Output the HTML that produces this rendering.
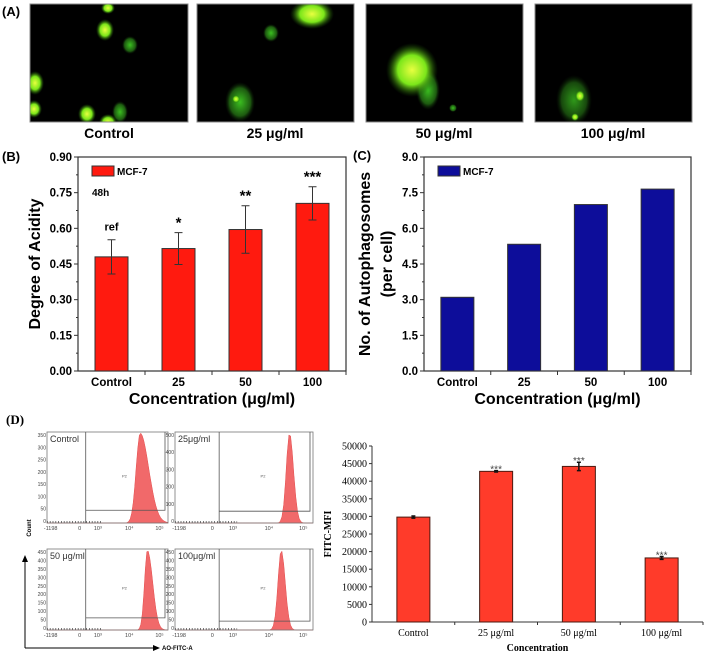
<!DOCTYPE html>
<html><head><meta charset="utf-8">
<style>
html,body{margin:0;padding:0;background:#fff;}
body{width:708px;height:661px;overflow:hidden;position:relative;font-family:"Liberation Sans",sans-serif;}
#fig{position:absolute;left:0;top:0;}
</style></head>
<body>
<svg id="fig" width="708" height="661" viewBox="0 0 708 661" xmlns="http://www.w3.org/2000/svg">
<defs>
  <radialGradient id="cg" cx="50%" cy="50%" r="50%">
    <stop offset="0%" stop-color="#e8ff40"/><stop offset="55%" stop-color="#7be61a"/><stop offset="100%" stop-color="#1a5a08" stop-opacity="0"/>
  </radialGradient>
  <radialGradient id="cd" cx="50%" cy="50%" r="50%">
    <stop offset="0%" stop-color="#3bbf20"/><stop offset="70%" stop-color="#1d5a10"/><stop offset="100%" stop-color="#0a2005" stop-opacity="0"/>
  </radialGradient>
  <clipPath id="c1"><rect x="30" y="4" width="158" height="118"/></clipPath>
  <clipPath id="c2"><rect x="197" y="4" width="157" height="118"/></clipPath>
  <clipPath id="c3"><rect x="366" y="4" width="157" height="118"/></clipPath>
  <clipPath id="c4"><rect x="535" y="4" width="157" height="118"/></clipPath>
</defs>

<text x="2" y="16" font-size="13" font-weight="bold">(A)</text>
<g clip-path="url(#c1)">
  <rect x="30" y="4" width="158" height="118" fill="#000" stroke="#888"/>
  <ellipse cx="105" cy="30" rx="9" ry="11" fill="url(#cg)"/>
  <ellipse cx="108" cy="8" rx="7" ry="6" fill="url(#cg)"/>
  <ellipse cx="130" cy="45" rx="8" ry="9" fill="url(#cd)"/>
  <ellipse cx="35" cy="83" rx="9" ry="12" fill="url(#cg)"/>
  <ellipse cx="34" cy="109" rx="8" ry="9" fill="url(#cg)"/>
  <ellipse cx="87" cy="114" rx="9" ry="10" fill="url(#cg)"/>
  <ellipse cx="108" cy="122" rx="9" ry="8" fill="url(#cg)"/>
  <ellipse cx="120" cy="112" rx="8" ry="11" fill="url(#cd)"/>
</g>
<rect x="30" y="4" width="158" height="118" fill="none" stroke="#888"/>
<g clip-path="url(#c2)">
  <rect x="197" y="4" width="157" height="118" fill="#000"/>
  <ellipse cx="312" cy="14" rx="22" ry="15" fill="url(#cg)"/>
  <ellipse cx="271" cy="33" rx="8" ry="9" fill="url(#cd)"/>
  <ellipse cx="240" cy="102" rx="15" ry="20" fill="url(#cd)"/>
  <ellipse cx="236" cy="99" rx="4" ry="4" fill="url(#cg)"/>
</g>
<rect x="197" y="4" width="157" height="118" fill="none" stroke="#888"/>
<g clip-path="url(#c3)">
  <rect x="366" y="4" width="157" height="118" fill="#000"/>
  <ellipse cx="428" cy="90" rx="12" ry="20" fill="url(#cd)"/>
  <ellipse cx="412" cy="70" rx="26" ry="27" fill="url(#cg)"/>
  <ellipse cx="453" cy="108" rx="4" ry="4" fill="url(#cd)"/>
</g>
<rect x="366" y="4" width="157" height="118" fill="none" stroke="#888"/>
<g clip-path="url(#c4)">
  <rect x="535" y="4" width="157" height="118" fill="#000"/>
  <ellipse cx="574" cy="100" rx="18" ry="25" fill="url(#cd)" opacity="0.8"/>
  <ellipse cx="580" cy="96" rx="5" ry="6" fill="url(#cg)"/>
  <ellipse cx="575" cy="117" rx="4" ry="4" fill="url(#cg)"/>
</g>
<rect x="535" y="4" width="157" height="118" fill="none" stroke="#888"/>
<g font-size="14" font-weight="bold" text-anchor="middle">
  <text x="109" y="138">Control</text>
  <text x="275" y="138">25 μg/ml</text>
  <text x="444" y="138">50 μg/ml</text>
  <text x="613" y="138">100 μg/ml</text>
</g>

<text x="2" y="161" font-size="13" font-weight="bold">(B)</text>
<text x="353" y="160" font-size="13" font-weight="bold">(C)</text>
<text x="6" y="424" font-size="13" font-weight="bold" font-family="Liberation Serif, serif">(D)</text>

<g id="chartB"></g>
<g id="chartC"></g>
<g id="flow"></g>
<g id="chartD"></g>
</svg>

<script>
const catsB = ["Control","25","50","100"];
const valsB = [0.48,0.515,0.595,0.705];
const errB = [0.072,0.067,0.10,0.07];
const sigB = ["ref","*","**","***"];
const ticksB = ["0.00","0.15","0.30","0.45","0.60","0.75","0.90"];

const catsC = ["Control","25","50","100"];
const valsC = [3.1,5.33,7.0,7.65];
const ticksC = ["0.0","1.5","3.0","4.5","6.0","7.5","9.0"];

const catsD = ["Control","25 μg/ml","50 μg/ml","100 μg/ml"];
const valsD = [29800,42800,44200,18200];
const errD = [300,200,1200,400];
const sigD = ["","***","***","***"];
const ticksD = ["0","5000","10000","15000","20000","25000","30000","35000","40000","45000","50000"];

const NS="http://www.w3.org/2000/svg";
function mk(parent,tag,attrs,text){
  const e=document.createElementNS(NS,tag);
  for(const k in attrs) e.setAttribute(k,attrs[k]);
  if(text!==undefined) e.textContent=text;
  parent.appendChild(e);
  return e;
}

function originChart(g, cats, vals, errs, sigs, ticks, opt){
  const L=opt.left,R=opt.right,T=opt.top,B=opt.bottom,max=opt.max;
  const y=v=>B-(v/max)*(B-T);
  const band=(R-L)/cats.length;
  const x=i=>L+band*(i+0.5);
  const frame=mk(g,'rect',{x:L,y:T,width:R-L,height:B-T,fill:'none',stroke:'#333','stroke-width':1.2});
  
  
  ticks.forEach((t,i)=>{
    const v=parseFloat(t);
    const tk=mk(g,'line',{x1:L-4,x2:L,y1:y(v),y2:y(v),stroke:'#333'});
    
    
    if(i<ticks.length-1){
      const mt=mk(g,'line',{x1:L-2,x2:L,y1:y(v+max/(ticks.length-1)/2),y2:y(v+max/(ticks.length-1)/2),stroke:'#333'});
      
      
    }
    const tl=mk(g,'text',{x:L-6,y:y(v)+4,'text-anchor':'end','font-size':11.5,'font-weight':'bold'},t);
    
    
  });
  cats.forEach((c,i)=>{
    const bw=33;
    const bar=mk(g,'rect',{x:x(i)-bw/2,y:y(vals[i]),width:bw,height:B-y(vals[i]),fill:opt.fill,stroke:'#333','stroke-width':1});
    
    
    const tk=mk(g,'line',{x1:L+band*(i+1),x2:L+band*(i+1),y1:B,y2:B+4,stroke:'#333'});
    
    
    const xl=mk(g,'text',{x:x(i),y:B+15,'text-anchor':'middle','font-size':11.5,'font-weight':'bold'},c);
    
    
    if(errs){
      const e=errs[i];
      const eb=mk(g,'path',{d:`M${x(i)},${y(vals[i]+e)}V${y(vals[i]-e)}M${x(i)-4},${y(vals[i]+e)}H${x(i)+4}M${x(i)-4},${y(vals[i]-e)}H${x(i)+4}`,stroke:'#333',fill:'none'});
      
      
      const s=mk(g,'text',{x:x(i),y:y(vals[i]+e)-(sigs[i]==='ref'?9:5),'text-anchor':'middle','font-size':sigs[i]==='ref'?11:15,'font-weight':'bold'},sigs[i]);
      
      
    }
  });
  const lg=mk(g,'rect',{x:L+14,y:T+9,width:22,height:10,fill:opt.fill,stroke:'#333'});
  
  
  const lt=mk(g,'text',{x:L+39,y:T+18,'font-size':10,'font-weight':'bold'},'MCF-7');
  
  
  const xt=mk(g,'text',{x:(L+R)/2,y:B+33,'text-anchor':'middle','font-size':16,'font-weight':'bold'},'Concentration (μg/ml)');
  
  
  const yt=mk(g,'text',{x:0,y:0,'text-anchor':'middle','font-size':16,'font-weight':'bold',transform:`translate(${opt.ytx},${(T+B)/2}) rotate(-90)`});
  opt.ytitle.forEach((line,k)=>{
    mk(yt,'tspan',{x:0,dy:k===0?0:22},line);
  });
  
  
}

const gB=document.getElementById('chartB');
originChart(gB,catsB,valsB,errB,sigB,ticksB,{left:78,right:346,top:157,bottom:371,max:0.9,fill:'#ff1a0f',ytx:40,ytitle:['Degree of Acidity']});
const h48=mk(gB,'text',{x:92,y:196,'font-size':10,'font-weight':'bold'},'48h');



const gC=document.getElementById('chartC');
originChart(gC,catsC,valsC,null,null,ticksC,{left:424,right:691,top:157,bottom:371,max:9,fill:'#0d0d9a',ytx:370,ytitle:['No. of Autophagosomes','(per cell)']});

(function(){
  const g=document.getElementById('chartD');
  const L=372,R=703,T=446,B=622,max=50000;
  const y=v=>B-(v/max)*(B-T);
  const band=(R-L)/catsD.length;
  const x=i=>L+band*(i+0.5);
  const ax=mk(g,'path',{d:`M${L},${T}V${B}H${R}`,stroke:'#333',fill:'none'});
  
  
  ticksD.forEach(t=>{
    const v=parseFloat(t);
    const tk=mk(g,'line',{x1:L-3,x2:L,y1:y(v),y2:y(v),stroke:'#333'});
    
    
    const tl=mk(g,'text',{x:L-5,y:y(v)+3.5,'text-anchor':'end','font-size':10,'font-family':'Liberation Serif, serif'},t);
    
    
  });
  catsD.forEach((c,i)=>{
    const bw=33;
    const bar=mk(g,'rect',{x:x(i)-bw/2,y:y(valsD[i]),width:bw,height:B-y(valsD[i]),fill:'#ff3b2a',stroke:'#4a1a10','stroke-width':1});
    
    
    const e=errD[i];
    const eb=mk(g,'path',{d:`M${x(i)},${y(valsD[i]+e)}V${y(valsD[i]-e)}M${x(i)-2},${y(valsD[i]+e)}H${x(i)+2}M${x(i)-2},${y(valsD[i]-e)}H${x(i)+2}`,stroke:'#111','stroke-width':1.5,fill:'none'});
    
    
    if(sigD[i]){
      const s=mk(g,'text',{x:x(i),y:y(valsD[i]+e)+2,'text-anchor':'middle','font-size':10,fill:'#444'},sigD[i]);
      
      
    }
    const tk=mk(g,'line',{x1:L+band*(i+1),x2:L+band*(i+1),y1:B,y2:B+3,stroke:'#333'});
    
    
    const xl=mk(g,'text',{x:x(i),y:B+14,'text-anchor':'middle','font-size':10,'font-family':'Liberation Serif, serif'},c);
    
    
  });
  const xt=mk(g,'text',{x:(L+R)/2,y:651,'text-anchor':'middle','font-size':10,'font-weight':'bold','font-family':'Liberation Serif, serif'},'Concentration');
  
  
  const yt=mk(g,'text',{x:0,y:0,'text-anchor':'middle','font-size':10,'font-weight':'bold','font-family':'Liberation Serif, serif',transform:`translate(331,${(T+B)/2}) rotate(-90)`},'FITC-MFI');
  
  
})();

const flowPanels = [
  {name:'control',label:'Control',x:47,y:432,w:121,h:91,ticks:['350','300','250','200','150','100','50','0'],peak:0.77,spread:[0.07,0.15],gate:0.14},
  {name:'25',label:'25μg/ml',x:175,y:432,w:138,h:91,ticks:['500','400','300','200','100','0'],peak:0.83,spread:[0.05,0.06],gate:0.13},
  {name:'50',label:'50 μg/ml',x:47,y:549,w:121,h:81,ticks:['450','400','350','300','250','200','150','100','50','0'],peak:0.83,spread:[0.05,0.09],gate:0.15},
  {name:'100',label:'100μg/ml',x:175,y:549,w:138,h:81,ticks:['450','400','350','300','250','200','150','100','50','0'],peak:0.77,spread:[0.05,0.06],gate:0.11}
];
(function(){
  const g=document.getElementById('flow');
  flowPanels.forEach(p=>{
    const sg=mk(g,'g',{});
    
    
    let d=`M${p.x},${p.y+p.h}`;
    for(let k=0;k<=80;k++){
      const f=k/80, xx=p.x+f*p.w;
      const s=f<p.peak?p.spread[0]:p.spread[1];
      const hgt=Math.exp(-Math.pow((f-p.peak)/s,2)*2.2)*(p.h-1);
      d+=`L${xx.toFixed(1)},${(p.y+p.h-hgt).toFixed(1)}`;
    }
    d+=`L${p.x+p.w},${p.y+p.h}Z`;
    const hist=mk(sg,'path',{d:d,fill:'#f0595a',stroke:'#e03a3a','stroke-width':0.5,opacity:0.9});
    
    
    const fr=mk(sg,'rect',{x:p.x,y:p.y,width:p.w,height:p.h,fill:'none',stroke:'#777','stroke-width':0.8});
    
    
    const gx=p.x+p.w*0.32;
    const gate=mk(sg,'path',{d:`M${gx},${p.y}V${p.y+p.h}M${gx},${p.y+p.h*(1-p.gate)}H${p.x+p.w-3}V${p.y}`,stroke:'#555','stroke-width':0.8,fill:'none'});
    
    
    const p2=mk(sg,'text',{x:gx+p.w*0.3,y:p.y+p.h*0.5,'font-size':4,fill:'#555'},'P2');
    
    
    const lb=mk(sg,'text',{x:p.x+3,y:p.y+10,'font-size':9,fill:'#333'},p.label);
    
    
    p.ticks.forEach((t,i)=>{
      const ty=p.y+3+(p.h-5)*i/(p.ticks.length-1);
      const tl=mk(sg,'text',{x:p.x-1,y:ty+2,'text-anchor':'end','font-size':5,fill:'#444'},t);
      
      
    });
    ['-1198','0','10³','10⁴','10⁵'].forEach((t,i)=>{
      const fx=[0.03,0.27,0.42,0.68,0.93][i];
      const tl=mk(sg,'text',{x:p.x+p.w*fx,y:p.y+p.h+7,'text-anchor':'middle','font-size':5.5,fill:'#444'},t);
      
      
    });
    const tk=mk(sg,'line',{x1:p.x,x2:p.x+p.w*0.45,y1:p.y+p.h-1,y2:p.y+p.h-1,stroke:'#555','stroke-dasharray':'0.8 2','stroke-width':2});
    
    
  });
  const arr=mk(g,'path',{d:'M25,648V560M25,648H155',stroke:'#000','stroke-width':1,fill:'none'});
  
  
  const ah=mk(g,'path',{d:'M22,562L25,555L28,562ZM153,645L160,648L153,651Z',fill:'#000'});
  
  
  const ct=mk(g,'text',{x:0,y:0,'font-size':6,'font-weight':'bold','text-anchor':'middle',transform:'translate(31,528) rotate(-90)'},'Count');
  
  
  const ft=mk(g,'text',{x:162,y:650,'font-size':6,'font-weight':'bold'},'AO-FITC-A');
  
  
})();
</script>
</body></html>
